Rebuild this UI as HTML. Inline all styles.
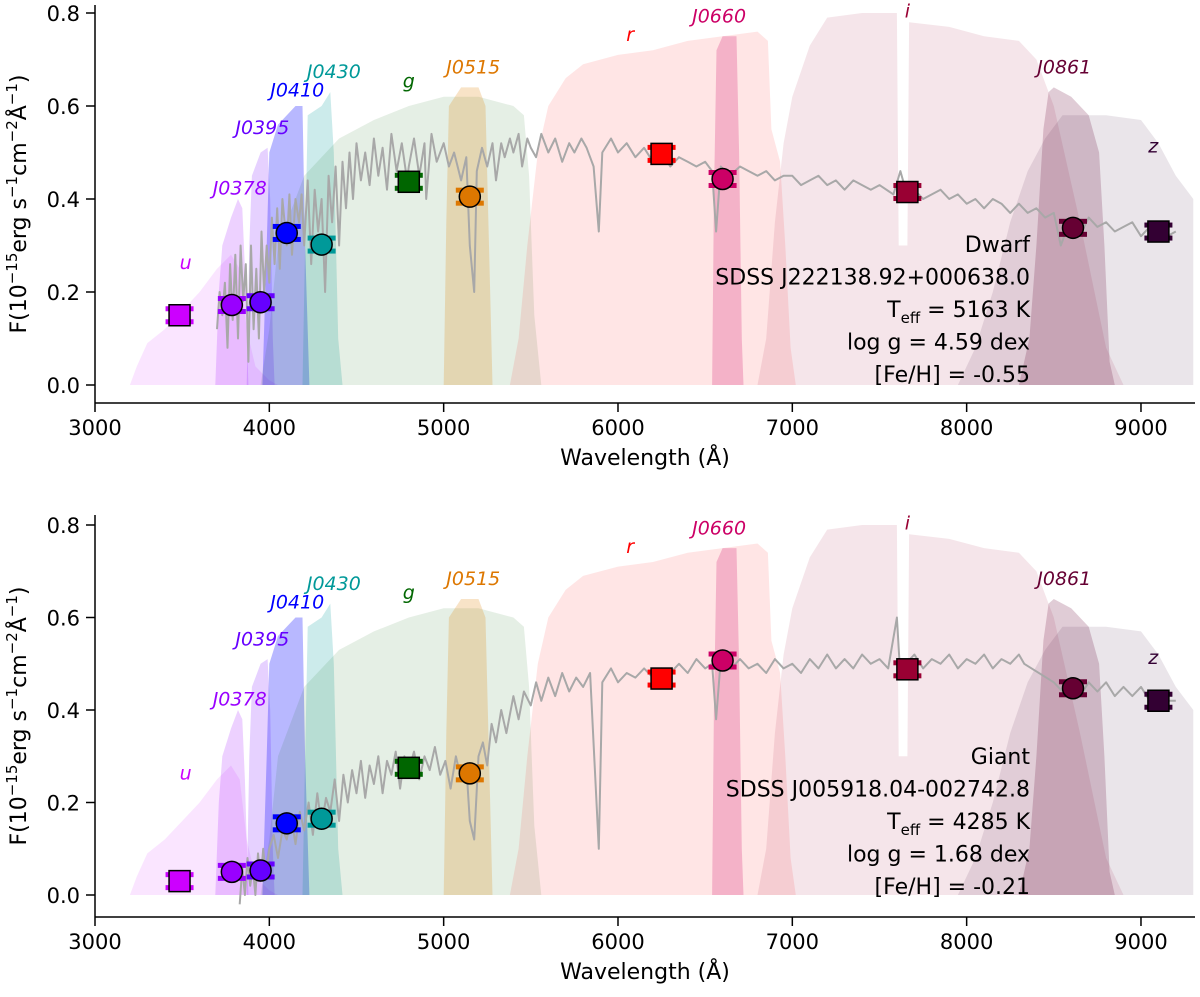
<!DOCTYPE html>
<html><head><meta charset="utf-8"><style>
body{margin:0;background:#fff;}
svg{display:block;font-family:"DejaVu Sans","Liberation Sans",sans-serif;}
</style></head><body>
<svg id="chart" width="1200" height="997"></svg>
<script>
const filterNames=["u","J0378","J0395","J0410","J0430","g","J0515","r","J0660","i","J0861","z"];
const filterCurves={
u:[[3200,0],[3240,0.04],[3300,0.09],[3400,0.12],[3500,0.16],[3600,0.2],[3700,0.25],[3780,0.28],[3830,0.25],[3870,0.12],[3920,0.04],[4000,0.01],[4050,0]],
J0378:[[3690,0],[3710,0.2],[3730,0.3],[3780,0.36],[3820,0.4],[3845,0.38],[3860,0.25],[3880,0]],
J0395:[[3870,0],[3885,0.3],[3900,0.45],[3950,0.5],[3990,0.51],[4005,0.4],[4020,0.1],[4030,0]],
J0410:[[3960,0],[3985,0.3],[4000,0.5],[4050,0.56],[4150,0.6],[4190,0.6],[4205,0.3],[4230,0]],
J0430:[[4190,0],[4205,0.3],[4220,0.58],[4300,0.6],[4350,0.63],[4370,0.5],[4395,0.1],[4420,0]],
g:[[3950,0],[4000,0.12],[4050,0.3],[4200,0.45],[4400,0.53],[4600,0.57],[4800,0.6],[5000,0.62],[5200,0.62],[5400,0.6],[5460,0.58],[5490,0.45],[5520,0.15],[5560,0]],
J0515:[[5000,0],[5015,0.35],[5030,0.6],[5100,0.64],[5200,0.64],[5240,0.6],[5260,0.3],[5280,0]],
r:[[5380,0],[5430,0.1],[5480,0.3],[5540,0.5],[5600,0.6],[5700,0.66],[5800,0.69],[6000,0.71],[6200,0.72],[6400,0.74],[6600,0.75],[6800,0.76],[6860,0.74],[6880,0.55],[6930,0.48],[6960,0.3],[6990,0.08],[7020,0]],
J0660:[[6540,0],[6550,0.4],[6565,0.72],[6600,0.75],[6680,0.75],[6695,0.5],[6710,0.1],[6720,0]],
i:[[6800,0],[6850,0.1],[6900,0.35],[6950,0.52],[7000,0.62],[7100,0.73],[7200,0.79],[7400,0.8],[7600,0.8],[7610,0.3],[7660,0.3],[7670,0.78],[7900,0.77],[8100,0.75],[8300,0.74],[8400,0.7],[8500,0.6],[8650,0.35],[8800,0.08],[8900,0]],
J0861:[[8300,0],[8360,0.1],[8400,0.3],[8440,0.55],[8470,0.63],[8500,0.64],[8600,0.62],[8700,0.58],[8760,0.5],[8790,0.3],[8820,0.05],[8850,0]],
z:[[7950,0],[8050,0.08],[8150,0.2],[8250,0.35],[8350,0.46],[8450,0.53],[8550,0.58],[8800,0.58],[9000,0.57],[9100,0.52],[9200,0.45],[9300,0.4],[9300,0]]
};
const filterFill={u:"rgba(204,0,255,0.10)",J0378:"rgba(153,0,255,0.18)",J0395:"rgba(119,0,255,0.18)",J0410:"rgba(0,0,255,0.28)",J0430:"rgba(0,153,153,0.20)",g:"rgba(0,102,0,0.10)",J0515:"rgba(221,128,0,0.22)",r:"rgba(255,0,0,0.10)",J0660:"rgba(204,0,102,0.22)",i:"rgba(153,0,51,0.10)",J0861:"rgba(102,0,51,0.20)",z:"rgba(51,0,51,0.10)"};
const filterColor={u:"#cc00ff",J0378:"#9900ff",J0395:"#6600ff",J0410:"#0000ff",J0430:"#009999",g:"#006600",J0515:"#dd7700",r:"#ff0000",J0660:"#cc0066",i:"#990033",J0861:"#660033",z:"#330033"};
const labelPos={u:[3520,0.25],J0378:[3830,0.41],J0395:[3960,0.54],J0410:[4160,0.62],J0430:[4370,0.66],g:[4800,0.64],J0515:[5170,0.67],r:[6070,0.74],J0660:[6580,0.78],i:[7660,0.79],J0861:[8560,0.67],z:[9070,0.5]};
const pivot=[3485,3785,3950,4100,4300,4800,5150,6250,6600,7660,8610,9100];
const markerShape=["s","o","o","o","o","s","o","s","o","s","o","s"];
const dwarfFlux=[0.150,0.172,0.178,0.327,0.302,0.437,0.405,0.497,0.443,0.415,0.338,0.330];
const giantFlux=[0.030,0.050,0.053,0.155,0.165,0.275,0.263,0.468,0.507,0.488,0.447,0.420];
const dwarfWave=[3700,3715,3730,3745,3760,3775,3790,3805,3820,3835,3850,3865,3880,3895,3910,3925,3940,3955,3970,3985,4000,4015,4030,4045,4060,4075,4100,4115,4130,4150,4170,4185,4200,4220,4240,4260,4280,4300,4320,4340,4360,4380,4400,4420,4440,4460,4480,4500,4525,4550,4575,4600,4625,4650,4675,4700,4730,4760,4790,4800,4830,4860,4890,4900,4930,4960,5000,5030,5060,5100,5130,5150,5175,5190,5220,5250,5280,5300,5330,5350,5380,5400,5430,5450,5480,5500,5530,5560,5600,5640,5680,5720,5750,5790,5820,5860,5890,5910,5960,6000,6050,6100,6150,6200,6250,6300,6350,6400,6450,6500,6540,6563,6590,6640,6700,6750,6800,6850,6900,6950,7000,7050,7100,7150,7200,7250,7300,7350,7400,7450,7500,7580,7620,7650,7700,7750,7800,7850,7900,7950,8000,8050,8100,8150,8200,8250,8300,8350,8400,8450,8500,8540,8600,8660,8700,8750,8800,8850,8900,8950,9000,9050,9100,9150,9200];
const dwarfSpec=[0.12,0.2,0.15,0.22,0.08,0.26,0.14,0.28,0.1,0.3,0.18,0.26,0.05,0.3,0.12,0.25,0.1,0.33,0.2,0.3,0.22,0.36,0.26,0.38,0.25,0.4,0.3,0.41,0.28,0.4,0.35,0.41,0.3,0.44,0.26,0.42,0.33,0.4,0.2,0.45,0.35,0.47,0.3,0.48,0.38,0.5,0.4,0.52,0.44,0.5,0.43,0.53,0.45,0.51,0.42,0.54,0.46,0.52,0.44,0.47,0.53,0.45,0.52,0.4,0.54,0.48,0.52,0.47,0.5,0.44,0.49,0.3,0.2,0.46,0.51,0.47,0.52,0.44,0.52,0.49,0.53,0.5,0.54,0.47,0.53,0.51,0.49,0.54,0.5,0.53,0.48,0.52,0.5,0.53,0.51,0.47,0.33,0.5,0.53,0.5,0.52,0.49,0.51,0.48,0.5,0.47,0.49,0.48,0.47,0.48,0.46,0.33,0.47,0.45,0.47,0.46,0.45,0.46,0.44,0.45,0.45,0.43,0.44,0.45,0.43,0.44,0.42,0.44,0.43,0.42,0.43,0.41,0.46,0.42,0.42,0.4,0.41,0.42,0.4,0.41,0.39,0.4,0.38,0.4,0.39,0.37,0.39,0.37,0.38,0.36,0.37,0.3,0.36,0.33,0.36,0.34,0.35,0.33,0.34,0.35,0.32,0.34,0.33,0.32,0.33];
const giantWave=[3830,3845,3860,3875,3890,3905,3920,3935,3950,3965,3980,4000,4025,4050,4075,4100,4125,4150,4175,4200,4225,4250,4275,4300,4325,4350,4375,4400,4425,4450,4475,4500,4525,4550,4575,4600,4625,4650,4675,4700,4725,4750,4775,4800,4830,4860,4890,4920,4950,4980,5010,5040,5070,5100,5130,5150,5175,5200,5225,5250,5275,5300,5330,5360,5400,5430,5460,5500,5530,5560,5600,5640,5680,5720,5760,5800,5840,5890,5910,5960,6000,6050,6100,6150,6200,6250,6300,6350,6400,6450,6500,6540,6563,6590,6650,6700,6750,6800,6850,6900,6950,7000,7050,7100,7150,7200,7250,7300,7350,7400,7450,7500,7550,7600,7620,7650,7700,7750,7800,7850,7900,7950,8000,8050,8100,8150,8200,8250,8300,8330,8500,8550,8600,8650,8700,8750,8800,8850,8900,8950,9000,9050,9100,9150,9200];
const giantSpec=[-0.02,0.06,0.0,0.08,0.02,0.06,0.0,0.09,0.03,0.1,0.04,0.1,0.13,0.08,0.14,0.12,0.17,0.11,0.18,0.14,0.2,0.13,0.22,0.15,0.21,0.18,0.25,0.16,0.26,0.2,0.27,0.22,0.29,0.21,0.28,0.24,0.3,0.22,0.29,0.26,0.31,0.23,0.3,0.27,0.31,0.25,0.3,0.27,0.32,0.26,0.29,0.23,0.3,0.25,0.28,0.16,0.12,0.3,0.33,0.28,0.37,0.33,0.4,0.35,0.43,0.38,0.44,0.41,0.46,0.42,0.47,0.43,0.48,0.44,0.47,0.45,0.48,0.1,0.46,0.49,0.46,0.48,0.47,0.49,0.47,0.49,0.48,0.5,0.48,0.51,0.49,0.5,0.38,0.51,0.49,0.51,0.49,0.5,0.48,0.51,0.49,0.5,0.48,0.51,0.49,0.52,0.49,0.51,0.49,0.52,0.5,0.51,0.49,0.6,0.47,0.5,0.52,0.49,0.51,0.5,0.52,0.49,0.51,0.5,0.52,0.49,0.51,0.5,0.52,0.5,0.46,0.44,0.47,0.43,0.46,0.44,0.46,0.43,0.45,0.43,0.45,0.42,0.44,0.42,0.42];
const xTicks=[3000,4000,5000,6000,7000,8000,9000];
const yTicks=[0.0,0.2,0.4,0.6,0.8];
const panels=[
 {id:"dwarf",y0:385,ys:465,axisY:403,top:5,wave:dwarfWave,spec:dwarfSpec,phot:dwarfFlux,text:["Dwarf","SDSS J222138.92+000638.0","Teff","log g =  4.59 dex","[Fe/H] =  -0.55"],teff:"5163 K",textY:252},
 {id:"giant",y0:895,ys:462.5,axisY:917,top:515,wave:giantWave,spec:giantSpec,phot:giantFlux,text:["Giant","SDSS J005918.04-002742.8","Teff","log g =  1.68 dex","[Fe/H] =  -0.21"],teff:"4285 K",textY:764}
];
const NS="http://www.w3.org/2000/svg";
const svg=document.getElementById("chart");
function X(l){return 95+(l-3000)*0.17433;}
function mk(tag,attrs,parent){const e=document.createElementNS(NS,tag);for(const k in attrs)e.setAttribute(k,attrs[k]);(parent||svg).appendChild(e);return e;}
panels.forEach(p=>{
 const Y=v=>p.y0-v*p.ys;
 const g=mk("g",{});
 
 
 filterNames.forEach(f=>{
  const pts=filterCurves[f].map(q=>X(q[0]).toFixed(1)+","+Y(q[1]).toFixed(1)).join(" ");
  const poly=mk("polygon",{points:pts,fill:filterFill[f]},g);
  
  
 });
 const path=p.wave.map((w,i)=>(i?"L":"M")+X(w).toFixed(1)+","+Y(p.spec[i]).toFixed(1)).join("");
 const sp=mk("path",{d:path,fill:"none",stroke:"#a8a8a8","stroke-width":2,"stroke-linejoin":"round"},g);
 
 
 filterNames.forEach((f,i)=>{
  const x=X(pivot[i]),y=Y(p.phot[i]),c=filterColor[f];
  const mg=mk("g",{},g);
  
  
  mk("rect",{x:x-14,y:y-9,width:28,height:5,fill:c},mg);
  mk("rect",{x:x-14,y:y+4,width:28,height:5,fill:c},mg);
  if(markerShape[i]==="s") mk("rect",{x:x-10.5,y:y-10.5,width:21,height:21,fill:c,stroke:"#000","stroke-width":1.5},mg);
  else mk("circle",{cx:x,cy:y,r:10.5,fill:c,stroke:"#000","stroke-width":1.5},mg);
  const lp=labelPos[f];
  const t=mk("text",{x:X(lp[0]),y:Y(lp[1]),"text-anchor":"middle","font-size":19,"font-style":"italic",fill:c},g);
  t.textContent=f;
  
  
 });
 const ax=mk("g",{},g);
 
 
 mk("line",{x1:95,y1:p.top,x2:95,y2:p.axisY,stroke:"#000","stroke-width":1.5},ax);
 mk("line",{x1:95,y1:p.axisY,x2:1195,y2:p.axisY,stroke:"#000","stroke-width":1.5},ax);
 xTicks.forEach(t=>{
  mk("line",{x1:X(t),y1:p.axisY,x2:X(t),y2:p.axisY+9,stroke:"#000","stroke-width":1.5},ax);
  const tx=mk("text",{x:X(t),y:p.axisY+32,"text-anchor":"middle","font-size":21},ax);
  tx.textContent=t;
  
  
 });
 yTicks.forEach(t=>{
  mk("line",{x1:86,y1:Y(t),x2:95,y2:Y(t),stroke:"#000","stroke-width":1.5},ax);
  const ty=mk("text",{x:80,y:Y(t)+8,"text-anchor":"end","font-size":21},ax);
  ty.textContent=t.toFixed(1);
  
  
 });
 const xt=mk("text",{x:645,y:p.axisY+62,"text-anchor":"middle","font-size":22},ax);
 xt.textContent="Wavelength (Å)";
 
 
 const yt=mk("text",{x:0,y:0,"text-anchor":"middle","font-size":22,transform:`translate(26,${(p.top+p.axisY)/2}) rotate(-90)`},ax);
 yt.innerHTML='F(10<tspan dy="-9" font-size="15">−15</tspan><tspan dy="9">erg s</tspan><tspan dy="-9" font-size="15">−1</tspan><tspan dy="9">cm</tspan><tspan dy="-9" font-size="15">−2</tspan><tspan dy="9">Å</tspan><tspan dy="-9" font-size="15">−1</tspan><tspan dy="9">)</tspan>';
 
 
 const info=mk("g",{},g);
 
 
 p.text.forEach((s,i)=>{
  const t=mk("text",{x:1030,y:p.textY+i*32.5,"text-anchor":"end","font-size":22},info);
  if(s==="Teff") t.innerHTML='T<tspan dy="6" font-size="15">eff</tspan><tspan dy="-6"> =  '+p.teff+'</tspan>';
  else t.textContent=s;
 });
});
</script>
</body></html>
